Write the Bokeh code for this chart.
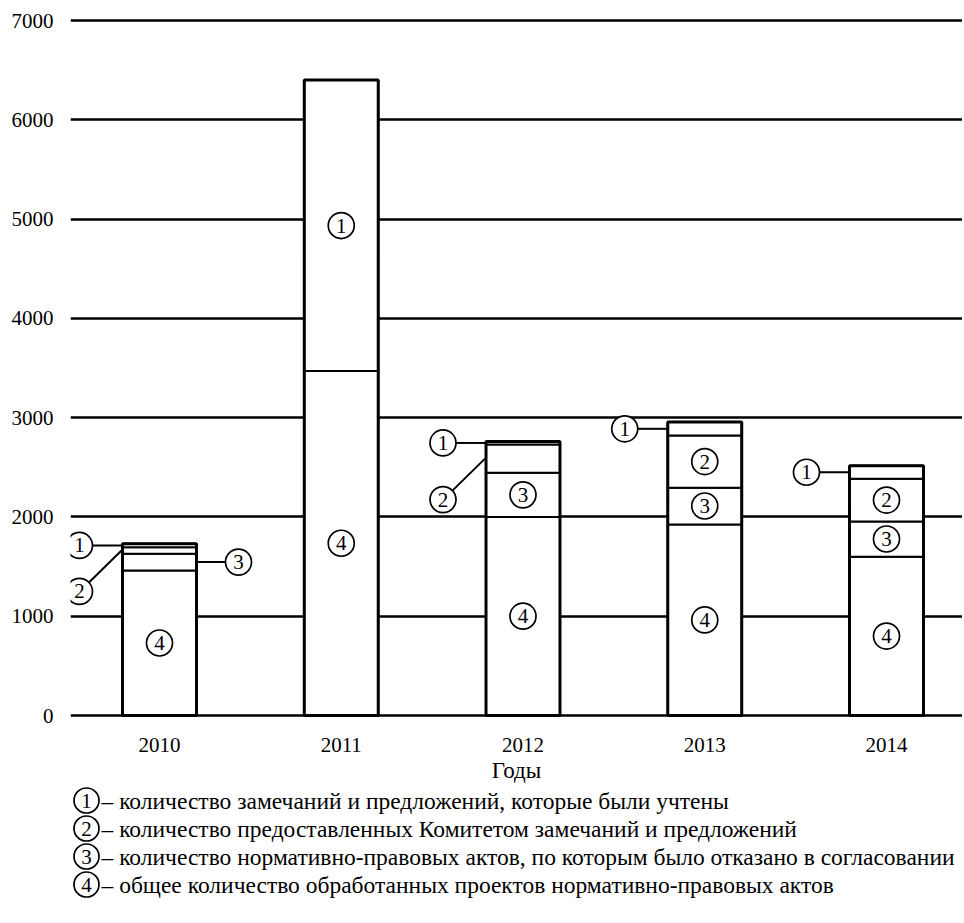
import math
from bokeh.plotting import figure
from bokeh.models import FixedTicker, Range1d, ColumnDataSource
from bokeh.layouts import column
from bokeh.embed import file_html
from bokeh.resources import INLINE
from bokeh.core.properties import value

# ---------------- data ----------------
years = [2010, 2011, 2012, 2013, 2014]
# (4) total processed drafts of normative legal acts
s4 = [1460, 3470, 2000, 1925, 1600]
# (3) acts refused approval
s3 = [170, 0, 445, 370, 355]
# (2) remarks and proposals provided by the Committee
s2 = [65, 0, 285, 525, 430]
# (1) remarks and proposals taken into account
s1 = [35, 2930, 30, 135, 130]
y_ticks = [0, 1000, 2000, 3000, 4000, 5000, 6000, 7000]
x_axis_label = "Годы"
legend_labels = [
    "– количество замечаний и предложений, которые были учтены",
    "– количество предоставленных Комитетом замечаний и предложений",
    "– количество нормативно-правовых актов, по которым было отказано в согласовании",
    "– общее количество обработанных проектов нормативно-правовых актов",
]
series_numbers = ["1", "2", "3", "4"]

# callout style for small segments: (year, series number) -> placement
callouts = {
    (2010, "1"): "left", (2010, "2"): "diag", (2010, "3"): "right",
    (2012, "1"): "left", (2012, "2"): "diag",
    (2013, "1"): "left",
    (2014, "1"): "left",
}

FONT = "Liberation Serif"
W, H1, H2 = 962, 785, 135
FL, FT, FB = 70, 10, 67
ppx = 181.75
ppy = 695.0 / 7000.0
x0 = 2010 - 89 / ppx
x1 = x0 + (W - FL) / ppx
y1 = 7000 + 10 / ppy
y0 = y1 - (H1 - FT - FB) / ppy
BAR_W = 0.407
R = 13  # circle radius px

p = figure(width=W, height=H1, x_range=Range1d(x0, x1), y_range=Range1d(y0, y1),
           output_backend="svg", toolbar_location=None,
           min_border_left=FL, min_border_right=0, min_border_top=FT, min_border_bottom=FB)
p.outline_line_color = None
p.xgrid.grid_line_color = None
p.ygrid.ticker = FixedTicker(ticks=y_ticks)
p.ygrid.grid_line_color = "black"
p.ygrid.grid_line_width = 2.5

p.yaxis.ticker = FixedTicker(ticks=y_ticks)
p.yaxis.axis_line_color = None
p.yaxis.major_tick_line_color = None
p.yaxis.minor_tick_line_color = None
p.yaxis.major_tick_out = 0
p.yaxis.minor_tick_out = 0
p.yaxis.major_label_standoff = 17
p.yaxis.major_label_text_font = FONT
p.yaxis.major_label_text_font_size = "21px"
p.yaxis.major_label_text_color = "black"

p.xaxis.ticker = FixedTicker(ticks=years)
p.xaxis.axis_line_color = None
p.xaxis.major_tick_line_color = None
p.xaxis.minor_tick_line_color = None
p.xaxis.major_tick_out = 0
p.xaxis.minor_tick_out = 0
p.xaxis.major_label_standoff = 19
p.xaxis.major_label_text_font = FONT
p.xaxis.major_label_text_font_size = "21px"
p.xaxis.major_label_text_color = "black"
p.xaxis.axis_label = x_axis_label
p.xaxis.axis_label_text_font = FONT
p.xaxis.axis_label_text_font_size = "23px"
p.xaxis.axis_label_text_font_style = "normal"
p.xaxis.axis_label_text_color = "black"
p.xaxis.axis_label_standoff = 3

stack_keys = ["s4", "s3", "s2", "s1"]
src = ColumnDataSource(dict(x=years, s4=s4, s3=s3, s2=s2, s1=s1,
                            total=[a + b + c + d for a, b, c, d in zip(s4, s3, s2, s1)]))
p.vbar_stack(stack_keys, x="x", width=BAR_W, source=src, fill_color="white",
             line_color="black", line_width=2)
p.vbar(x="x", top="total", bottom=0, width=BAR_W, source=src, fill_color=None,
       line_color="black", line_width=3)

# circle labels
cx, cy, ct = [], [], []
lx0, ly0, lx1, ly1 = [], [], [], []
series_vals = {"4": s4, "3": s3, "2": s2, "1": s1}
order = ["4", "3", "2", "1"]
for i, yr in enumerate(years):
    base = 0
    for num in order:
        v = series_vals[num][i]
        mid = base + v / 2
        base += v
        if v <= 0:
            continue
        key = (yr, num)
        if key not in callouts:
            cx.append(yr); cy.append(mid); ct.append(num)
            continue
        kind = callouts[key]
        edge_l = yr - BAR_W / 2
        edge_r = yr + BAR_W / 2
        if kind == "left":
            ccx = yr - 80 / ppx; ccy = mid
            lx0.append(ccx + R / ppx); ly0.append(ccy); lx1.append(edge_l); ly1.append(ccy)
        elif kind == "right":
            ccx = yr + 79 / ppx; ccy = mid
            lx0.append(edge_r); ly0.append(ccy); lx1.append(ccx - R / ppx); ly1.append(ccy)
        else:
            ccx = yr - 80 / ppx; ccy = mid - 41 / ppy
            dxp = (edge_l - ccx) * ppx; dyp = (mid - ccy) * ppy
            n = math.hypot(dxp, dyp)
            lx0.append(ccx + R * dxp / n / ppx); ly0.append(ccy + R * dyp / n / ppy)
            lx1.append(edge_l - 1 / ppx); ly1.append(mid)
        cx.append(ccx); cy.append(ccy); ct.append(num)

p.segment(x0=lx0, y0=ly0, x1=lx1, y1=ly1, line_color="black", line_width=2)
p.scatter(x=cx, y=cy, marker="circle", size=2 * R, fill_color="white",
          line_color="black", line_width=1.7)
p.text(x=cx, y=cy, text=ct, text_align="center", text_baseline="middle",
       text_font=value(FONT), text_font_size="21px", text_color="black")

# legend figure (frame left edge matches the chart frame; x in page pixels)
lg = figure(width=W, height=H2, x_range=Range1d(FL, W), y_range=Range1d(H2, 0),
            output_backend="svg", toolbar_location=None,
            x_axis_type=None, y_axis_type=None,
            min_border_left=FL, min_border_right=0, min_border_top=0, min_border_bottom=0)
lg.grid.visible = False
lg.outline_line_color = None
rows = [15 + 28 * k for k in range(len(legend_labels))]
lg.scatter(x=[86] * len(rows), y=rows, marker="circle", size=25, fill_color="white",
           line_color="black", line_width=1.7)
lg.text(x=[86] * len(rows), y=rows, text=series_numbers, text_align="center",
        text_baseline="middle", text_font=value(FONT), text_font_size="21px", text_color="black")
lg.text(x=[101] * len(rows), y=rows, text=legend_labels, text_align="left",
        text_baseline="middle", text_font=value(FONT), text_font_size="23.5px", text_color="black")

layout = column(p, lg, spacing=0)
open("out.html", "w").write(file_html(layout, INLINE))
